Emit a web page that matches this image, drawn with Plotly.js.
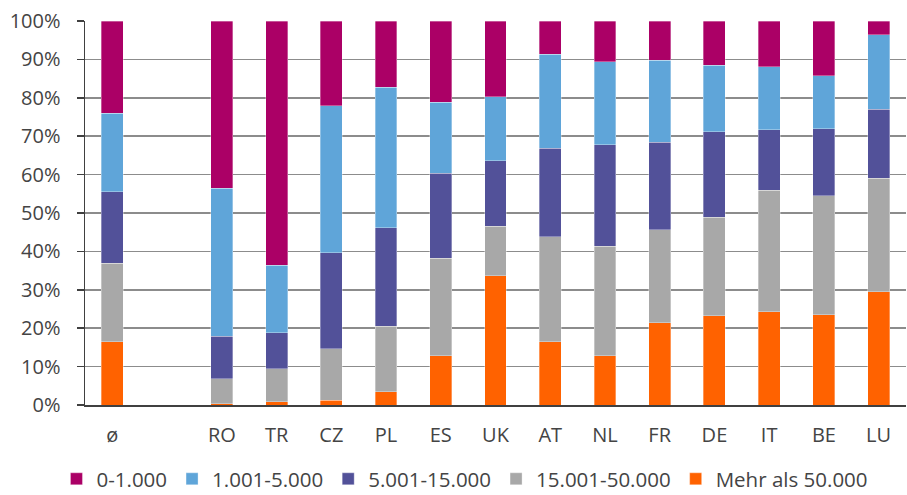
<!DOCTYPE html>
<html>
<head>
<meta charset="utf-8">
<script src="https://cdn.plot.ly/plotly-3.0.1.min.js"></script>
<style>
  html, body { margin: 0; padding: 0; background: #fff; }
  #chart { width: 907px; height: 495px; }
</style>
</head>
<body>
<div id="chart"></div>
<script>
const categories = ['ø', ' ', 'RO', 'TR', 'CZ', 'PL', 'ES', 'UK', 'AT', 'NL', 'FR', 'DE', 'IT', 'BE', 'LU'];

const seriesNames = ['0-1.000', '1.001-5.000', '5.001-15.000', '15.001-50.000', 'Mehr als 50.000'];

const over50000  = [16.5, null, 0.3, 0.9, 1.2, 3.5, 12.8, 33.7, 16.5, 12.8, 21.4, 23.3, 24.3, 23.5, 29.5];
const from15to50 = [20.4, null, 6.5, 8.6, 13.5, 17.0, 25.4, 12.8, 27.3, 28.6, 24.2, 25.6, 31.6, 31.0, 29.6];
const from5to15  = [18.6, null, 11.1, 9.3, 25.0, 25.6, 22.2, 17.1, 23.0, 26.4, 22.8, 22.2, 15.8, 17.4, 17.9];
const from1to5   = [20.5, null, 38.5, 17.6, 38.2, 36.6, 18.5, 16.7, 24.5, 21.6, 21.4, 17.4, 16.4, 13.8, 19.4];
const upTo1      = [24.0, null, 43.6, 63.6, 22.1, 17.3, 21.1, 19.7, 8.7, 10.6, 10.2, 11.5, 11.9, 14.3, 3.6];

const yTickVals = [0, 10, 20, 30, 40, 50, 60, 70, 80, 90, 100];
const yTickText = ['0%', '10%', '20%', '30%', '40%', '50%', '60%', '70%', '80%', '90%', '100%'];

const colors = {
  upTo1: '#AB0066',
  from1to5: '#5FA5D9',
  from5to15: '#525199',
  from15to50: '#A8A8A8',
  over50000: '#FF6200'
};

const FONT = '"Open Sans", "Noto Sans", sans-serif';
const TXT = '#444444';

function bar(name, y, color) {
  return {
    type: 'bar', name: name, x: categories, y: y,
    marker: { color: color, line: { color: 'rgba(255,255,255,0.55)', width: 0.6 } },
    hoverinfo: 'x+y+name'
  };
}

const data = [
  bar(seriesNames[4], over50000, colors.over50000),
  bar(seriesNames[3], from15to50, colors.from15to50),
  bar(seriesNames[2], from5to15, colors.from5to15),
  bar(seriesNames[1], from1to5, colors.from1to5),
  bar(seriesNames[0], upTo1, colors.upTo1)
];

const layout = {
  width: 907, height: 495,
  margin: { l: 85, r: 1, t: 21, b: 90, pad: 0, autoexpand: false },
  paper_bgcolor: '#fff', plot_bgcolor: '#fff',
  barmode: 'stack',
  bargap: 0.6,
  font: { family: FONT, size: 20, color: TXT },
  showlegend: true,
  legend: {
    orientation: 'h', traceorder: 'reversed',
    xref: 'paper', yref: 'paper',
    x: 0.4628, xanchor: 'center',
    y: -0.1927, yanchor: 'middle',
    bgcolor: 'rgba(0,0,0,0)',
    font: { family: FONT, size: 20.5, color: TXT },
    itemwidth: 30
  },
  xaxis: {
    type: 'category', automargin: false,
    categoryorder: 'array', categoryarray: categories,
    showgrid: false, zeroline: false,
    showline: true, linecolor: '#404040', linewidth: 1.5,
    ticks: '', ticklabelstandoff: 11,
    tickfont: { family: FONT, size: 20, color: TXT },
    fixedrange: true
  },
  yaxis: {
    range: [0, 100], automargin: false,
    tickmode: 'array', tickvals: yTickVals, ticktext: yTickText,
    showgrid: true, gridcolor: '#8C8C8C', gridwidth: 1.5,
    zeroline: false,
    showline: true, linecolor: '#404040', linewidth: 1.5,
    ticks: 'outside', ticklen: 7, tickwidth: 1.5, tickcolor: '#404040',
    ticklabelstandoff: 12,
    tickfont: { family: FONT, size: 20, color: TXT },
    fixedrange: true
  }
};

Plotly.newPlot('chart', data, layout, { displayModeBar: false, staticPlot: true });
</script>
</body>
</html>
